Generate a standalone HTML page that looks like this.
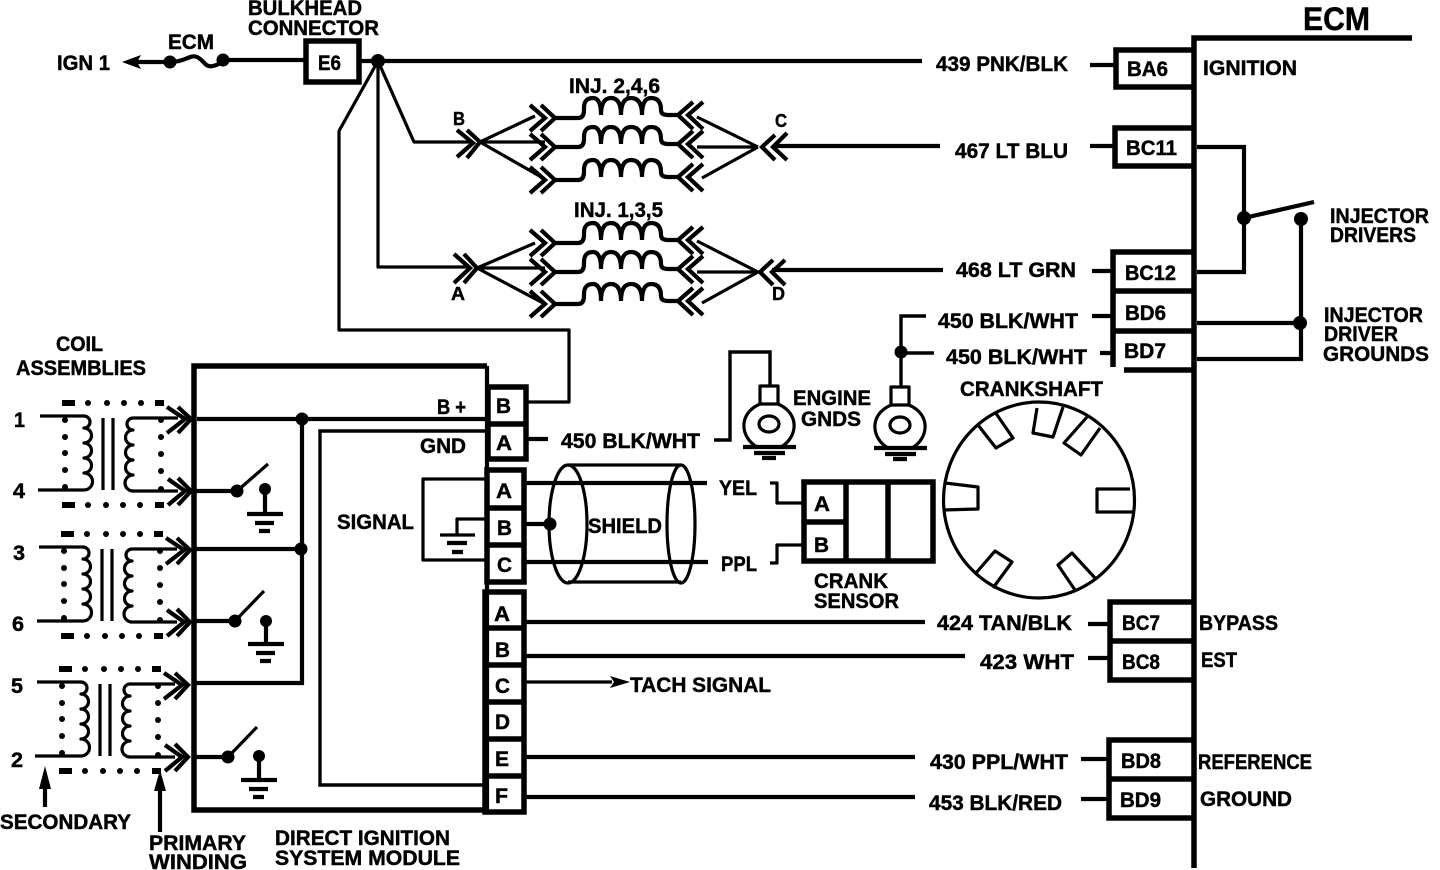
<!DOCTYPE html>
<html><head><meta charset="utf-8"><title>Direct Ignition System</title>
<style>
html,body{margin:0;padding:0;background:#fff}
svg{display:block}
text{font-family:"Liberation Sans",sans-serif;font-weight:bold;font-size:21px;fill:#000;stroke:#000;stroke-width:.45}
.l{fill:none;stroke:#000;stroke-width:3.2;stroke-linejoin:round}
.m{fill:none;stroke:#000;stroke-width:4.2;stroke-linejoin:miter}
.b{fill:none;stroke:#000;stroke-width:5.5;stroke-linejoin:miter}
.d{fill:#000;stroke:none}
.s{font-size:18px}
</style></head><body>
<svg width="1440" height="870" viewBox="0 0 1440 870" xmlns="http://www.w3.org/2000/svg">
<defs>
<g id="coil">
<path class="l" d="M40 416H84a6 6 0 0 1 0 12a7.5 7.5 0 0 1 0 15a7.5 7.5 0 0 1 0 15a7.5 7.5 0 0 1 0 15a8.5 8.5 0 0 1 0 17H38"/>
<path class="l" d="M178 418H133a6 6 0 0 0 0 12a7.5 7.5 0 0 0 0 15a7.5 7.5 0 0 0 0 15a7.5 7.5 0 0 0 0 15a8 8 0 0 0 0 16H178"/>
<path class="l" d="M103 418V490M113 418V490"/>
<path class="m" d="M167 407L185 419L167 433M178 407L191 419L178 433M168 479L185 491L168 505M178 478L191 491L178 505"/>
<path fill="none" stroke="#000" stroke-width="6" d="M62 403H75M155 403H164M62 505H75M155 505H164"/>
<g class="d">
<circle cx="88" cy="403" r="3"/><circle cx="107" cy="403" r="3"/><circle cx="124" cy="403" r="3"/><circle cx="141" cy="403" r="3"/>
<circle cx="88" cy="505" r="3"/><circle cx="106" cy="505" r="3"/><circle cx="123" cy="505" r="3"/><circle cx="140" cy="505" r="3"/>
<circle cx="65" cy="420" r="3"/><circle cx="65" cy="437" r="3"/><circle cx="65" cy="453" r="3"/><circle cx="65" cy="470" r="3"/><circle cx="65" cy="487" r="3"/>
<circle cx="161" cy="420" r="3"/><circle cx="161" cy="437" r="3"/><circle cx="161" cy="454" r="3"/><circle cx="161" cy="471" r="3"/><circle cx="161" cy="489" r="3"/>
</g>
</g>
<g id="inj">
<path class="m" d="M530 -13L545 0L530 13M541 -13L555 0L541 13"/>
<path class="m" d="M555 0H578Q584 0 584 -8V-10Q584 -20 593 -20Q601 -20 601 -3Q601 -20 611 -20Q621 -20 621 -3Q621 -20 631 -20Q642 -20 642 -3Q642 -20 651 -20Q661 -20 661 -8Q661 -3 668 -3H680"/>
<path class="m" d="M693 -16L678 -3L693 11M703 -16L688 -3L703 11"/>
</g>
<g id="gnd">
<path class="m" d="M0 0H36M8 9H27M12 17H23" />
</g>
<g id="eg">
<rect class="l" x="-9" y="-38" width="18" height="18"/>
<path class="l" d="M-9 -20C-32 -10 -28 14 -12 23H12C28 14 32 -10 9 -20"/>
<ellipse class="l" cx="0" cy="0" rx="10" ry="8"/>
<path class="m" d="M-26 23H27"/>
<path class="m" d="M-15 29H16M-7 34H7"/>
</g>
</defs>

<!-- top section -->
<text x="57" y="70" textLength="53" lengthAdjust="spacingAndGlyphs">IGN 1</text>
<path class="d" d="M122 62L141 55L137 62L141 69Z"/>
<path class="m" d="M135 62H171"/>
<circle class="d" cx="170" cy="62" r="6.5"/><circle class="d" cx="223" cy="60" r="6.5"/>
<path class="m" d="M171 62C185 62 190 54 197 57S205 68 213 66S220 62 224 60"/>
<path class="m" d="M224 60H306"/>
<text x="168" y="49" textLength="46" lengthAdjust="spacingAndGlyphs">ECM</text>
<text x="248" y="15" textLength="114" lengthAdjust="spacingAndGlyphs">BULKHEAD</text>
<text x="248" y="35" textLength="131" lengthAdjust="spacingAndGlyphs">CONNECTOR</text>
<rect class="b" x="306" y="41" width="53" height="41"/>
<text x="318" y="70" textLength="23" lengthAdjust="spacingAndGlyphs">E6</text>
<path class="m" d="M359 61H922"/>
<circle class="d" cx="378" cy="61" r="7"/>
<path class="l" d="M378 61L339 131V330H569V402H527"/>
<path class="l" d="M378 61V267H470"/>
<path class="l" d="M378 61L414 142H470"/>

<!-- injectors top -->
<text x="569" y="93" textLength="91" lengthAdjust="spacingAndGlyphs">INJ. 2,4,6</text>
<use href="#inj" transform="translate(0,118)"/>
<use href="#inj" transform="translate(0,147)"/>
<use href="#inj" transform="translate(0,180)"/>
<path class="m" d="M457 130L473 143L457 157M467 130L480 142L467 158"/>
<path class="l" d="M480 142L535 116M480 142H545M480 142L543 178"/>
<path class="m" d="M775 135L762 147L775 160M787 133L773 147L787 160"/>
<path class="l" d="M758 147L697 117M758 147H697M758 147L702 178"/>
<path class="m" d="M773 146H940"/>
<text class="s" x="453" y="125" textLength="12" lengthAdjust="spacingAndGlyphs">B</text>
<text class="s" x="775" y="127" textLength="12" lengthAdjust="spacingAndGlyphs">C</text>

<!-- injectors lower -->
<text x="574" y="217" textLength="89" lengthAdjust="spacingAndGlyphs">INJ. 1,3,5</text>
<use href="#inj" transform="translate(0,243)"/>
<use href="#inj" transform="translate(0,272)"/>
<use href="#inj" transform="translate(0,304)"/>
<path class="m" d="M454 254L470 268L454 283M464 254L477 268L464 283"/>
<path class="l" d="M477 268L535 243M477 268H545M477 268L543 303"/>
<path class="m" d="M773 260L760 272L773 285M785 260L772 272L785 285"/>
<path class="l" d="M758 272L697 241M758 272H697M758 272L702 303"/>
<path class="m" d="M772 270H943"/>
<text class="s" x="451" y="300" textLength="14" lengthAdjust="spacingAndGlyphs">A</text>
<text class="s" x="772" y="300" textLength="13" lengthAdjust="spacingAndGlyphs">D</text>

<!-- ECM -->
<path class="b" d="M1194 868V38H1412"/>
<text x="1303" y="30" style="font-size:32px" textLength="67" lengthAdjust="spacingAndGlyphs">ECM</text>
<path class="m" d="M1090 65H1116"/>
<path class="b" d="M1194 50H1116V87H1194"/>
<text x="1127" y="76" textLength="41" lengthAdjust="spacingAndGlyphs">BA6</text>
<text x="1203" y="75" textLength="94" lengthAdjust="spacingAndGlyphs">IGNITION</text>
<path class="m" d="M1090 146H1116"/>
<path class="b" d="M1194 128H1115V166H1194"/>
<text x="1126" y="155" textLength="51" lengthAdjust="spacingAndGlyphs">BC11</text>
<path class="m" d="M1197 147H1244V272H1197"/>
<path class="m" d="M1244 218L1314 202"/>
<circle class="d" cx="1244" cy="218" r="7"/><circle class="d" cx="1301" cy="219" r="7"/>
<path class="m" d="M1301 219V359H1197M1197 323H1301"/>
<circle class="d" cx="1300" cy="323" r="7"/>
<text x="1330" y="223" textLength="99" lengthAdjust="spacingAndGlyphs">INJECTOR</text>
<text x="1330" y="242" textLength="86" lengthAdjust="spacingAndGlyphs">DRIVERS</text>
<text x="1324" y="322" textLength="99" lengthAdjust="spacingAndGlyphs">INJECTOR</text>
<text x="1324" y="341" textLength="74" lengthAdjust="spacingAndGlyphs">DRIVER</text>
<text x="1323" y="361" textLength="106" lengthAdjust="spacingAndGlyphs">GROUNDS</text>
<path class="b" d="M1194 252H1113V367M1113 291H1194M1113 331H1194M1124 370H1194"/>
<text x="1125" y="280" textLength="51" lengthAdjust="spacingAndGlyphs">BC12</text>
<text x="1125" y="320" textLength="41" lengthAdjust="spacingAndGlyphs">BD6</text>
<text x="1124" y="358" textLength="42" lengthAdjust="spacingAndGlyphs">BD7</text>
<path class="m" d="M1092 271H1112M1092 316H1112M1100 353H1112"/>
<text x="936" y="71" textLength="132" lengthAdjust="spacingAndGlyphs">439 PNK/BLK</text>
<text x="955" y="158" textLength="113" lengthAdjust="spacingAndGlyphs">467 LT BLU</text>
<text x="956" y="277" textLength="120" lengthAdjust="spacingAndGlyphs">468 LT GRN</text>
<text x="938" y="328" textLength="140" lengthAdjust="spacingAndGlyphs">450 BLK/WHT</text>
<text x="946" y="364" textLength="141" lengthAdjust="spacingAndGlyphs">450 BLK/WHT</text>

<path class="b" d="M1194 602H1110V680H1194M1110 641H1194"/>
<path class="b" d="M1194 740H1109V818H1194M1109 779H1194"/>
<path class="m" d="M1088 624H1110M1088 658H1110M1081 759H1109M1081 799H1109"/>
<text x="1122" y="630" textLength="38" lengthAdjust="spacingAndGlyphs">BC7</text>
<text x="1122" y="669" textLength="38" lengthAdjust="spacingAndGlyphs">BC8</text>
<text x="1121" y="768" textLength="40" lengthAdjust="spacingAndGlyphs">BD8</text>
<text x="1120" y="807" textLength="41" lengthAdjust="spacingAndGlyphs">BD9</text>
<text x="1199" y="630" textLength="79" lengthAdjust="spacingAndGlyphs">BYPASS</text>
<text x="1201" y="667" textLength="36" lengthAdjust="spacingAndGlyphs">EST</text>
<text x="1198" y="769" textLength="114" lengthAdjust="spacingAndGlyphs">REFERENCE</text>
<text x="1200" y="806" textLength="92" lengthAdjust="spacingAndGlyphs">GROUND</text>

<!-- module -->
<path class="b" d="M487 366H194V810H487"/>
<path class="m" d="M487 366V810"/>
<path class="b" d="M488 387H526V459H488ZM488 424H526"/>
<path class="b" d="M487 470H524V582H487ZM487 508H524M487 545H524"/>
<path class="b" d="M485 592H524V812H485ZM485 628H524M485 665H524M485 702H524M485 739H524M485 776H524"/>
<text x="496" y="413" textLength="15" lengthAdjust="spacingAndGlyphs">B</text>
<text x="496" y="450" textLength="16" lengthAdjust="spacingAndGlyphs">A</text>
<text x="496" y="498" textLength="16" lengthAdjust="spacingAndGlyphs">A</text>
<text x="497" y="535" textLength="15" lengthAdjust="spacingAndGlyphs">B</text>
<text x="497" y="572" textLength="15" lengthAdjust="spacingAndGlyphs">C</text>
<text x="494" y="621" textLength="16" lengthAdjust="spacingAndGlyphs">A</text>
<text x="495" y="657" textLength="15" lengthAdjust="spacingAndGlyphs">B</text>
<text x="495" y="693" textLength="15" lengthAdjust="spacingAndGlyphs">C</text>
<text x="495" y="729" textLength="15" lengthAdjust="spacingAndGlyphs">D</text>
<text x="495" y="766" textLength="14" lengthAdjust="spacingAndGlyphs">E</text>
<text x="495" y="803" textLength="13" lengthAdjust="spacingAndGlyphs">F</text>
<text x="437" y="414" textLength="29" lengthAdjust="spacingAndGlyphs">B +</text>
<text x="420" y="453" textLength="46" lengthAdjust="spacingAndGlyphs">GND</text>
<text x="337" y="529" textLength="77" lengthAdjust="spacingAndGlyphs">SIGNAL</text>
<path class="m" d="M197 419H487"/>
<path class="m" d="M487 431H320V785H487" style="stroke-width:3.4"/>
<path class="m" d="M302 419V683H195M195 549H302"/>
<circle class="d" cx="302" cy="419" r="6.5"/><circle class="d" cx="301" cy="549" r="6.5"/>
<!-- switches -->
<path class="m" d="M195 491H237"/><circle class="d" cx="237" cy="491" r="6.5"/>
<path class="l" d="M237 491L268 464"/><circle class="d" cx="265" cy="489" r="6"/><path class="m" d="M265 489V514"/>
<use href="#gnd" x="247" y="514"/>
<path class="m" d="M195 621H235"/><circle class="d" cx="235" cy="621" r="6.5"/>
<path class="l" d="M235 621L264 591"/><circle class="d" cx="266" cy="621" r="6"/><path class="m" d="M266 621V644"/>
<use href="#gnd" x="248" y="644"/>
<path class="m" d="M195 757H228"/><circle class="d" cx="228" cy="757" r="6.5"/>
<path class="l" d="M228 757L257 727"/><circle class="d" cx="259" cy="756" r="6"/><path class="m" d="M259 756V780"/>
<use href="#gnd" x="241" y="780"/>

<!-- coils -->
<use href="#coil"/>
<use href="#coil" transform="translate(-1,131)"/>
<use href="#coil" transform="translate(-3,266)"/>
<text x="56" y="351" textLength="47" lengthAdjust="spacingAndGlyphs">COIL</text>
<text x="16" y="375" textLength="130" lengthAdjust="spacingAndGlyphs">ASSEMBLIES</text>
<text x="14" y="427" textLength="11" lengthAdjust="spacingAndGlyphs">1</text>
<text x="13" y="498" textLength="12" lengthAdjust="spacingAndGlyphs">4</text>
<text x="13" y="560" textLength="12" lengthAdjust="spacingAndGlyphs">3</text>
<text x="12" y="631" textLength="12" lengthAdjust="spacingAndGlyphs">6</text>
<text x="11" y="693" textLength="12" lengthAdjust="spacingAndGlyphs">5</text>
<text x="11" y="767" textLength="12" lengthAdjust="spacingAndGlyphs">2</text>
<path class="m" d="M45 807V780"/><path class="d" d="M45 766L39 789H51Z"/>
<path class="m" d="M160 832V780"/><path class="d" d="M160 770L154 791H166Z"/>
<text x="0" y="829" textLength="131" lengthAdjust="spacingAndGlyphs">SECONDARY</text>
<text x="149" y="850" textLength="97" lengthAdjust="spacingAndGlyphs">PRIMARY</text>
<text x="149" y="869" textLength="98" lengthAdjust="spacingAndGlyphs">WINDING</text>
<text x="275" y="845" textLength="175" lengthAdjust="spacingAndGlyphs">DIRECT IGNITION</text>
<text x="275" y="865" textLength="185" lengthAdjust="spacingAndGlyphs">SYSTEM MODULE</text>

<!-- signal block -->
<path class="l" d="M487 479H423V560H487"/>
<path class="l" d="M487 519H457V535"/>
<path class="l" d="M440 535H475"/><path class="m" d="M447 543H467M452 552H463"/>

<!-- module wires -->
<path class="m" d="M527 439H548"/>
<text x="561" y="448" textLength="139" lengthAdjust="spacingAndGlyphs">450 BLK/WHT</text>
<path class="m" d="M714 440H730V352H770V386" style="stroke-width:3.4"/>
<use href="#eg" transform="translate(769,424)"/>
<use href="#eg" transform="translate(900,425)"/>
<path class="m" d="M901 387V316H926M901 353H934" style="stroke-width:3.4"/>
<circle class="d" cx="901" cy="352" r="6.5"/>
<text x="793" y="405" textLength="78" lengthAdjust="spacingAndGlyphs">ENGINE</text>
<text x="801" y="426" textLength="60" lengthAdjust="spacingAndGlyphs">GNDS</text>

<!-- shield -->
<ellipse class="l" cx="568" cy="524" rx="19" ry="59"/>
<ellipse class="l" cx="681" cy="524" rx="14" ry="59"/>
<path class="l" d="M568 465H681M568 582H681"/>
<path class="m" d="M525 483H707M525 562H708M525 524H550"/>
<circle class="d" cx="550" cy="524" r="6.5"/>
<text x="588" y="533" textLength="74" lengthAdjust="spacingAndGlyphs">SHIELD</text>
<text x="719" y="495" textLength="38" lengthAdjust="spacingAndGlyphs">YEL</text>
<text x="721" y="571" textLength="36" lengthAdjust="spacingAndGlyphs">PPL</text>
<path class="l" d="M770 483H777V503H802M770 563H777V545H802"/>
<rect class="b" x="804" y="482" width="129" height="79"/>
<path class="b" d="M846 482V561M888 482V561M804 522H846"/>
<text x="814" y="511" textLength="16" lengthAdjust="spacingAndGlyphs">A</text>
<text x="814" y="552" textLength="15" lengthAdjust="spacingAndGlyphs">B</text>
<text x="814" y="588" textLength="74" lengthAdjust="spacingAndGlyphs">CRANK</text>
<text x="814" y="608" textLength="85" lengthAdjust="spacingAndGlyphs">SENSOR</text>

<!-- crankshaft -->
<text x="960" y="396" textLength="143" lengthAdjust="spacingAndGlyphs">CRANKSHAFT</text>
<ellipse class="l" cx="1039" cy="500" rx="95.5" ry="98"/>
<path class="l" d="M995 412L1013 438L996 448L978 425"/>
<path class="l" d="M1037 408L1033 433L1053 437L1063 407"/>
<path class="l" d="M1087 417L1064 443L1081 455L1100 428"/>
<path class="l" d="M1130 489H1097V512H1133"/>
<path class="l" d="M1095 578L1072 553L1058 565L1075 590"/>
<path class="l" d="M976 573L995 551L1012 562L993 588"/>
<path class="l" d="M945 483L978 487V509L943 510"/>

<!-- lower wires -->
<path class="m" d="M525 622H925"/>
<path class="m" d="M525 656H965"/>
<path class="l" d="M525 682H612"/>
<path class="d" d="M630 682L610 676L614 682L610 688Z"/>
<text x="630" y="692" textLength="141" lengthAdjust="spacingAndGlyphs">TACH SIGNAL</text>
<path class="m" d="M525 757H915"/>
<path class="m" d="M525 797H915"/>
<text x="937" y="630" textLength="135" lengthAdjust="spacingAndGlyphs">424 TAN/BLK</text>
<text x="980" y="669" textLength="94" lengthAdjust="spacingAndGlyphs">423 WHT</text>
<text x="930" y="769" textLength="138" lengthAdjust="spacingAndGlyphs">430 PPL/WHT</text>
<text x="929" y="810" textLength="133" lengthAdjust="spacingAndGlyphs">453 BLK/RED</text>
</svg>
</body></html>
